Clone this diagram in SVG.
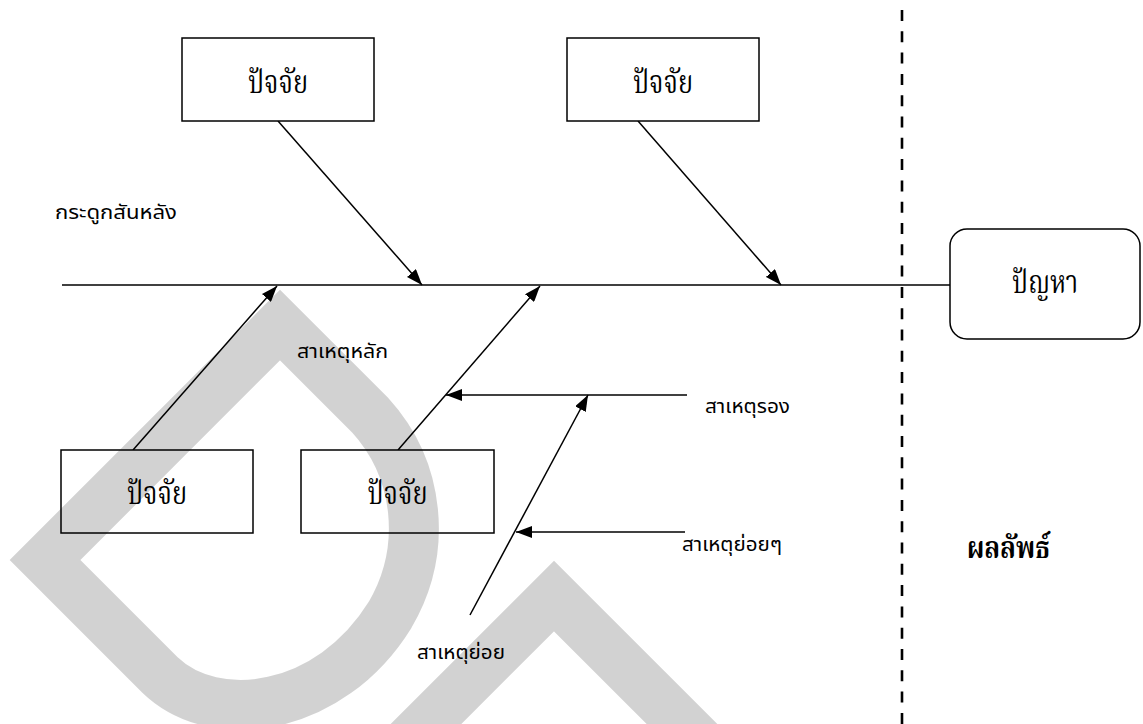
<svg xmlns="http://www.w3.org/2000/svg" width="1143" height="724" viewBox="0 0 1143 724">
  <style>
    .box { fill: #fff; stroke: #000; stroke-width: 1.5; }
    .line { fill: none; stroke: #000; stroke-width: 1.5; }
    .arrow { fill: none; stroke: #000; stroke-width: 1.5; marker-end: url(#head); }
    .factor { font-family: "Liberation Serif", "Noto Serif Thai", serif; font-size: 32px; fill: #000; text-anchor: middle; }
    .label { font-family: "DejaVu Sans", "Noto Sans Thai", sans-serif; font-size: 20px; fill: #000; }
    .result { font-family: "Liberation Serif", "Noto Serif Thai", serif; font-size: 31px; font-weight: bold; fill: #000; }
    .mark { fill: none; stroke: #000; stroke-opacity: 0.175; stroke-width: 50; stroke-linejoin: miter; stroke-miterlimit: 10; }
  </style>
  <defs>
    <marker id="head" markerUnits="userSpaceOnUse" markerWidth="16" markerHeight="12" refX="16" refY="6" orient="auto">
      <path d="M0,0 L16,6 L0,12 z" fill="#000"/>
    </marker>
  </defs>

  <rect width="1143" height="724" fill="#fff"/>

  <!-- spine, result divider and cause arrows -->
  <g id="connectors">
    <line class="line" x1="62" y1="285" x2="950" y2="285"/>
    <line x1="902" y1="10" x2="902" y2="724" stroke="#000" stroke-width="2.6" stroke-dasharray="11 10.3"/>
    <line class="arrow" x1="278" y1="121" x2="422" y2="285"/>
    <line class="arrow" x1="638" y1="121" x2="781" y2="285"/>
    <line class="arrow" x1="133" y1="450" x2="277" y2="286"/>
    <line class="arrow" x1="398" y1="450" x2="540" y2="286"/>
    <line class="arrow" x1="687" y1="395" x2="446" y2="395"/>
    <line class="arrow" x1="470" y1="615" x2="588" y2="395"/>
    <line class="arrow" x1="685" y1="532" x2="516" y2="532"/>
  </g>

  <!-- factor boxes -->
  <g id="factor-top-1">
    <rect class="box" x="182" y="38" width="192" height="83"/>
    <text class="factor" x="278" y="93" textLength="60" lengthAdjust="spacingAndGlyphs">ปัจจัย</text>
  </g>
  <g id="factor-top-2">
    <rect class="box" x="567" y="38" width="192" height="83"/>
    <text class="factor" x="663" y="93" textLength="60" lengthAdjust="spacingAndGlyphs">ปัจจัย</text>
  </g>
  <g id="factor-bottom-1">
    <rect class="box" x="61" y="450" width="192" height="83"/>
    <text class="factor" x="157" y="504" textLength="60" lengthAdjust="spacingAndGlyphs">ปัจจัย</text>
  </g>
  <g id="factor-bottom-2">
    <rect class="box" x="301" y="450" width="193" height="83"/>
    <text class="factor" x="397.5" y="504" textLength="60" lengthAdjust="spacingAndGlyphs">ปัจจัย</text>
  </g>

  <!-- problem (fish head) -->
  <g id="problem">
    <rect class="box" x="950" y="229" width="190" height="110" rx="17" ry="17"/>
    <text class="factor" x="1045" y="293" textLength="66" lengthAdjust="spacingAndGlyphs">ปัญหา</text>
  </g>

  <!-- labels -->
  <g id="labels">
    <text class="label" x="55" y="219" textLength="122" lengthAdjust="spacingAndGlyphs">กระดูกสันหลัง</text>
    <text class="label" x="297" y="358" textLength="91" lengthAdjust="spacingAndGlyphs">สาเหตุหลัก</text>
    <text class="label" x="705" y="413" textLength="85" lengthAdjust="spacingAndGlyphs">สาเหตุรอง</text>
    <text class="label" x="682" y="551" textLength="100" lengthAdjust="spacingAndGlyphs">สาเหตุย่อยๆ</text>
    <text class="label" x="417" y="659" textLength="88" lengthAdjust="spacingAndGlyphs">สาเหตุย่อย</text>
  </g>

  <g id="result">
    <text class="result" x="967" y="558" textLength="83" lengthAdjust="spacingAndGlyphs">ผลลัพธ์</text>
  </g>

  <!-- background mark -->
  <g id="mark">
    <path class="mark" d="M280,325 L45,560 L160,675 C215,728 330,712 390,615 C428,550 420,470 370,415 Z"/>
    <path class="mark" d="M400,750 L554,596 L708,750"/>
  </g>
</svg>
